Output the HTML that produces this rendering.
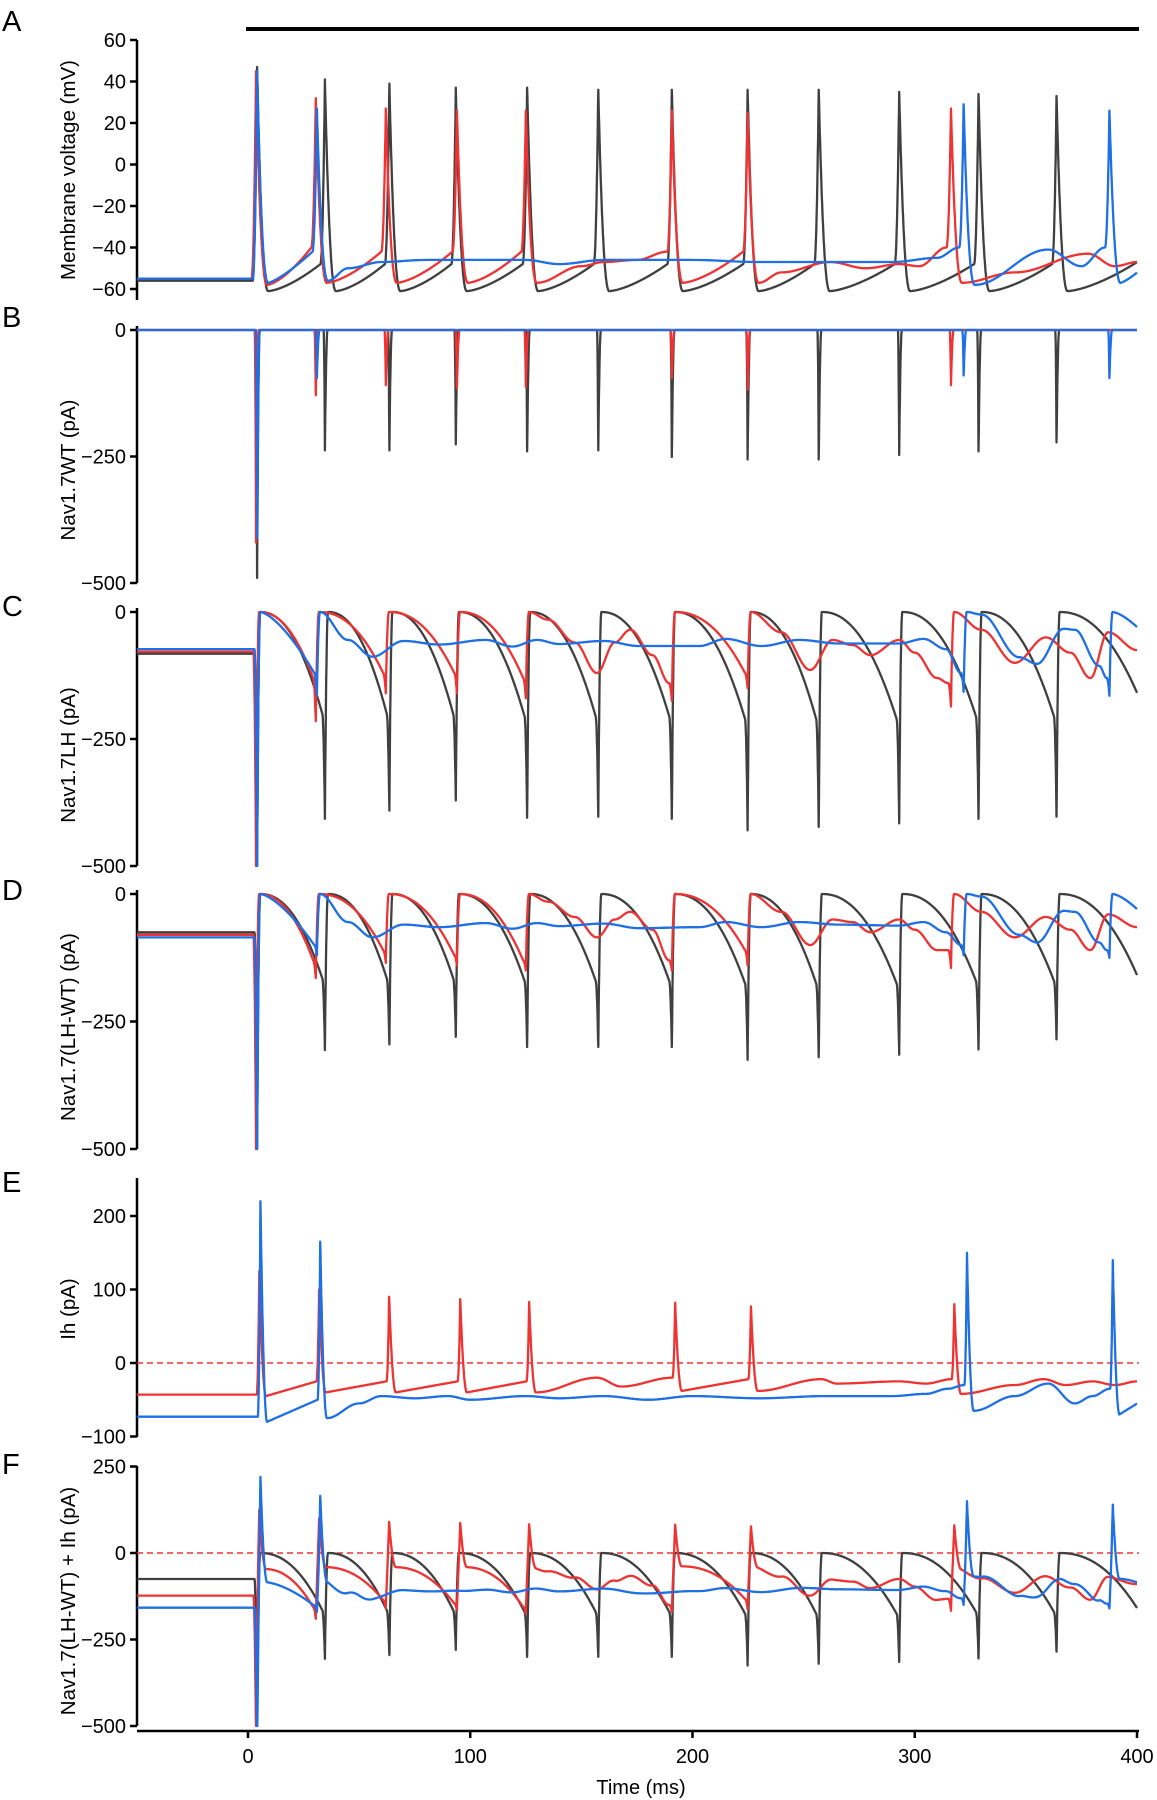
<!DOCTYPE html>
<html><head><meta charset="utf-8"><style>
html,body{margin:0;padding:0;background:#fff;}
svg{display:block;font-family:"Liberation Sans",Arial,sans-serif;}
</style></head><body>
<svg id="fig" width="1157" height="1800" viewBox="0 0 1157 1800">
<g id="axes"></g>
<g id="traces"></g>
</svg>
<script>
// ---- spike times (ms) ----
const tBlack=[4.1,34.6,63.6,93.5,125.6,157.6,190.7,224.8,256.8,293,328.7,363.8];
const tRed=[3.6,30.5,62,94,125,190.7,224.8,316.3];
const tBlue=[4.1,31,322,387.6];
// ---- Panel A: membrane voltage (mV) ----
const aBlackPeak=[47,41,39,37,37,36,36,36,36,35,34,33];
const aBlackPre=[-56,-48,-48,-48,-48,-48,-48,-48,-48,-48,-48,-48,-47];
const aBlackPost=[-61,-61,-61,-61,-61,-61,-61,-61,-61,-61,-61,-61];
const aRedPeak=[45,32,27,26,26,26,25,27];
const aRedPre=[-55,-40,-42,-42,-42,-42,-42,-40,-47];
const aRedPost=[-58,-57,-57,-57,-57,-57,-57,-57];
const aRedWob=[[150,-49],[160,-47],[175,-46],[240,-52],[262,-47],[278,-50],[293,-48],[302,-49],[345,-52],[378,-43],[390,-49]];
const aBluePeak=[45,27,29,26];
const aBluePre=[-55,-42,-40,-40,-52];
const aBluePost=[-57,-56,-58,-57];
const aBlueWob=[[45,-50],[60,-47],[80,-46],[100,-46],[125,-46],[140,-48],[160,-46],[200,-46],[230,-47],[260,-47],[290,-47],[310,-45],[360,-41],[375,-49]];
// ---- Panel B: Nav1.7WT (pA) ----
const bBlackPeak=[-490,-238,-238,-226,-240,-238,-251,-256,-256,-247,-240,-222];
const bRedPeak=[-420,-129,-109,-115,-113,-95,-118,-109];
const bBluePeak=[-410,-95,-90,-95];
// ---- Panel C: Nav1.7LH (pA) ----
const cBlackPeak=[-500,-407,-391,-371,-405,-403,-407,-430,-423,-416,-407,-403];
const cBlackPre=[-82,-200,-200,-200,-205,-205,-205,-210,-210,-210,-205,-205,-160];
const cRedPeak=[-500,-215,-160,-160,-170,-175,-150,-186];
const cRedPre=[-78,-130,-120,-120,-130,-140,-120,-140,-75];
const cRedWob=[[135,-15],[147,-60],[157,-120],[165,-60],[172,-35],[182,-85],[240,-40],[253,-114],[263,-55],[272,-65],[280,-85],[293,-55],[300,-80],[310,-130],[330,-35],[345,-100],[359,-50],[370,-80],[379,-130],[387,-40]];
const cBluePeak=[-500,-165,-157,-165];
const cBluePre=[-73,-120,-120,-130,-30];
const cBlueWob=[[45,-55],[56,-88],[70,-57],[86,-64],[107,-55],[119,-68],[130,-55],[140,-63],[160,-57],[176,-67],[203,-67],[215,-53],[231,-67],[248,-55],[266,-62],[293,-62],[304,-53],[314,-73],[330,-5],[347,-89],[355,-102],[367,-33],[372,-35],[383,-106]];
// ---- Panel D: Nav1.7(LH-WT) (pA) ----
const dBlackPeak=[-500,-306,-295,-280,-300,-300,-300,-325,-320,-315,-305,-285];
const dBlackPre=[-75,-165,-165,-165,-170,-170,-170,-175,-175,-175,-170,-170,-160];
const dRedPeak=[-500,-165,-135,-140,-150,-150,-140,-145];
const dRedPre=[-80,-130,-110,-120,-130,-130,-110,-110,-65];
const dRedWob=[[135,-15],[147,-45],[157,-85],[165,-50],[172,-35],[182,-70],[240,-35],[253,-100],[263,-50],[272,-55],[280,-75],[293,-50],[300,-70],[310,-110],[330,-35],[345,-85],[359,-45],[370,-70],[379,-110],[387,-40]];
const dBluePeak=[-500,-120,-120,-125];
const dBluePre=[-85,-100,-100,-110,-30];
const dBlueWob=[[45,-55],[56,-85],[70,-60],[86,-65],[107,-57],[119,-68],[130,-57],[140,-63],[160,-58],[176,-67],[203,-65],[215,-55],[231,-65],[248,-55],[266,-60],[293,-62],[304,-55],[314,-75],[330,-5],[347,-80],[355,-95],[367,-33],[372,-35],[383,-95]];
// ---- Panel E: Ih (pA) ----
const eRedPeak=[125,100,90,87,83,82,77,80];
const eRedPre=[-43,-25,-25,-25,-25,-20,-22,-22,-25];
const eRedPost=[-45,-40,-40,-40,-40,-38,-38,-42];
const eRedWob=[[157,-20],[168,-32],[258,-22],[265,-28],[293,-25],[305,-28],[345,-30],[358,-22],[368,-30],[380,-25],[390,-30]];
const eBluePeak=[220,165,150,140];
const eBluePre=[-73,-50,-30,-35,-55];
const eBluePost=[-80,-75,-65,-70];
const eBlueWob=[[50,-55],[60,-45],[75,-48],[90,-45],[100,-50],[125,-45],[140,-48],[160,-45],[180,-50],[200,-45],[230,-48],[260,-45],[290,-45],[305,-42],[315,-35],[345,-45],[360,-28],[372,-55],[380,-45]];
// ---- tick labels ----
const ticksA=[60,40,20,0,-20,-40,-60];
const ticksB=[0,-250,-500];
const ticksE=[200,100,0,-100];
const ticksF=[250,0,-250,-500];
const ticksX=[0,100,200,300,400];

const NS="http://www.w3.org/2000/svg";
const axesG=document.getElementById('axes');
const trG=document.getElementById('traces');
const xOf=t=>248+t*2.2225;
function lin(v0,y0,v1,y1){return v=>y0+(v-v0)*(y1-y0)/(v1-v0);}
const panels=[
 {id:'a',letter:'A',ly:31,y:lin(-60,289,60,40),top:40,bot:300,ticks:ticksA,title:'Membrane voltage (mV)',tc:170},
 {id:'b',letter:'B',ly:327,y:lin(0,330,-500,583),top:326,bot:583,ticks:ticksB,title:'Nav1.7WT (pA)',tc:470},
 {id:'c',letter:'C',ly:616,y:lin(0,612,-500,866),top:608,bot:866,ticks:ticksB,title:'Nav1.7LH (pA)',tc:755},
 {id:'d',letter:'D',ly:900,y:lin(0,894,-500,1149),top:890,bot:1149,ticks:ticksB,title:'Nav1.7(LH-WT) (pA)',tc:1027},
 {id:'e',letter:'E',ly:1192,y:lin(0,1363,200,1216),top:1178,bot:1437,ticks:ticksE,title:'Ih (pA)',tc:1309},
 {id:'f',letter:'F',ly:1474,y:lin(0,1553,-500,1726),top:1466,bot:1726,ticks:ticksF,title:'Nav1.7(LH-WT) + Ih (pA)',tc:1601}
];
function mk(tag,attrs,parent){const e=document.createElementNS(NS,tag);for(const k in attrs)e.setAttribute(k,attrs[k]);parent.appendChild(e);return e;}

panels.forEach(p=>{
  const g=mk('g',{},axesG);
  
  
  const L=mk('text',{x:2,y:p.ly,'font-size':29},g);L.textContent=p.letter;
  
  
  const ax=mk('line',{x1:137,x2:137,y1:p.top,y2:p.bot,stroke:'#000','stroke-width':2.5},g);
  
  
  p.ticks.forEach(v=>{
    const yy=p.y(v);
    const tk=mk('line',{x1:130,x2:137,y1:yy,y2:yy,stroke:'#000','stroke-width':2.5},g);
    
    
    const tl=mk('text',{x:126,y:yy+7,'font-size':20,'text-anchor':'end'},g);
    tl.textContent=String(v).replace('-','\u2212');
    
    
  });
  const tt=mk('text',{x:0,y:0,'font-size':20.5,'text-anchor':'middle',transform:'translate(75,'+p.tc+') rotate(-90)'},g);
  tt.textContent=p.title;
  
  
});
// x axis
const xa=mk('line',{x1:137,x2:1139,y1:1731,y2:1731,stroke:'#000','stroke-width':2.5},axesG);


ticksX.forEach(t=>{
  const tk=mk('line',{x1:xOf(t),x2:xOf(t),y1:1731,y2:1738,stroke:'#000','stroke-width':2.5},axesG);
  
  
  const tl=mk('text',{x:xOf(t),y:1763,'font-size':20,'text-anchor':'middle'},axesG);
  tl.textContent=t;
  
  
});
const xt=mk('text',{x:641,y:1794,'font-size':20,'text-anchor':'middle'},axesG);
xt.textContent='Time (ms)';


const stim=mk('line',{x1:246,x2:1139,y1:29,y2:29,stroke:'#000','stroke-width':4},axesG);


// zero lines
[panels[4],panels[5]].forEach(p=>{
  const z=mk('line',{x1:137,x2:1139,y1:p.y(0),y2:p.y(0),stroke:'#ee3333','stroke-width':1.6,'stroke-dasharray':'6,4'},axesG);
  
  
});

// trace model
function fill(n,v){return Array(n+1).fill(v);}
function makeFn(T,P,Pr,Po,W,prm){
  const n=T.length;const lag=prm.lag||0;const r=prm.r,f=prm.f,k=prm.k,fp=prm.fp||2;
  return function(t){
    const ts=T.map(x=>x+lag);
    if(t<ts[0]-r)return Pr[0];
    let i=0;while(i+1<n&&t>=ts[i+1]-r)i++;
    if(t<ts[i]){const u=(t-(ts[i]-r))/r;return Pr[i]+(P[i]-Pr[i])*u*u;}
    if(t<ts[i]+f){const u=(t-ts[i])/f;return Po[i]+(P[i]-Po[i])*Math.pow(1-u,fp);}
    const s=ts[i]+f,e=(i+1<n?ts[i+1]-r:400.1),ve=Pr[i+1];
    const pts=[[s,Po[i]]];
    (W||[]).forEach(w=>{if(w[0]>s&&w[0]<e)pts.push(w);});
    pts.push([e,ve]);
    if(pts.length===2){const u=(t-s)/(e-s);return Po[i]+(ve-Po[i])*Math.pow(Math.max(0,u),k);}
    let j=0;while(j<pts.length-2&&t>pts[j+1][0])j++;
    const a=pts[j],b=pts[j+1];const u=Math.min(1,Math.max(0,(t-a[0])/(b[0]-a[0])));
    const c=(1-Math.cos(Math.PI*u))/2;return a[1]+(b[1]-a[1])*c;
  };
}
const zB=n=>Array(n).fill(0);
const prmA={r:2,f:5,k:1.5,fp:2.3},prmB={r:0.6,f:1.2,k:1},prmC={r:1.2,f:1.4,k:2.2},prmE={r:1.2,f:3,k:1,lag:1.5};
const fn={
 a:{black:makeFn(tBlack,aBlackPeak,aBlackPre,aBlackPost,null,prmA),
    red:makeFn(tRed,aRedPeak,aRedPre,aRedPost,aRedWob,prmA),
    blue:makeFn(tBlue,aBluePeak,aBluePre,aBluePost,aBlueWob,{r:2,f:5,k:1.3,fp:2.3})},
 b:{black:makeFn(tBlack,bBlackPeak,fill(12,0),zB(12),null,prmB),
    red:makeFn(tRed,bRedPeak,fill(8,0),zB(8),null,prmB),
    blue:makeFn(tBlue,bBluePeak,fill(4,0),zB(4),null,prmB)},
 c:{black:makeFn(tBlack,cBlackPeak,cBlackPre,zB(12),null,prmC),
    red:makeFn(tRed,cRedPeak,cRedPre,zB(8),cRedWob,prmC),
    blue:makeFn(tBlue,cBluePeak,cBluePre,zB(4),cBlueWob,{r:1.2,f:1.4,k:1.5})},
 d:{black:makeFn(tBlack,dBlackPeak,dBlackPre,zB(12),null,prmC),
    red:makeFn(tRed,dRedPeak,dRedPre,zB(8),dRedWob,prmC),
    blue:makeFn(tBlue,dBluePeak,dBluePre,zB(4),dBlueWob,{r:1.2,f:1.4,k:1.5})},
 e:{red:makeFn(tRed,eRedPeak,eRedPre,eRedPost,eRedWob,prmE),
    blue:makeFn(tBlue,eBluePeak,eBluePre,eBluePost,eBlueWob,prmE)}
};
fn.f={black:t=>fn.d.black(t),red:t=>fn.d.red(t)+fn.e.red(t),blue:t=>fn.d.blue(t)+fn.e.blue(t)};
const colors={black:'#404040',red:'#ee3333',blue:'#1f6fe5'};
const lims={a:[-65,60],b:[-500,0],c:[-500,10],d:[-500,10],e:[-100,250],f:[-500,250]};
panels.forEach(p=>{
  ['black','red','blue'].forEach(s=>{
    const F=fn[p.id][s];if(!F)return;
    let d='';
    for(let i=0;i<=4500;i++){
      const t=-50+i*0.1;
      let v=F(t);v=Math.max(lims[p.id][0],Math.min(lims[p.id][1],v));
      d+=(i?'L':'M')+xOf(t).toFixed(1)+' '+p.y(v).toFixed(1);
    }
    const path=mk('path',{d:d,fill:'none',stroke:colors[s],'stroke-width':2.3,'stroke-linejoin':'round'},trG);
    
    
  });
});
</script>
</body></html>
